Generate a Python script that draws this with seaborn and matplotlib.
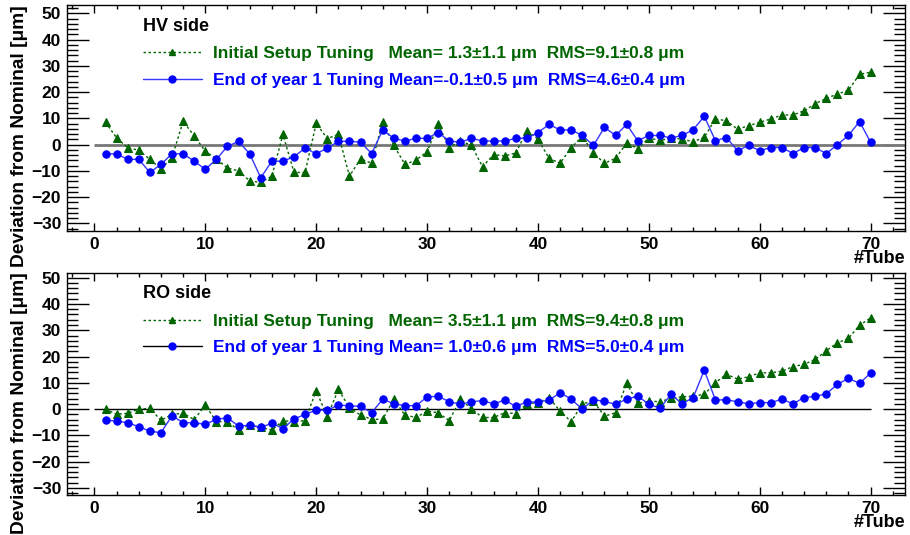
import numpy as np
import pandas as pd
import matplotlib
matplotlib.use("Agg")
import matplotlib.pyplot as plt
from matplotlib.ticker import MultipleLocator
from matplotlib.lines import Line2D
import seaborn as sns

# ---------------- data ----------------
tubes = list(range(1, 71))

hv_initial = [8.5, 2.6, -1.2, -2.1, -5.6, -9.3, -4.9, 8.9, 3.3, -2.5,
              -5.5, -8.9, -10.0, -13.8, -14.4, -12.0, 3.9, -10.6, -10.6, 8.1,
              2.3, 3.9, -12.0, -5.4, -7.1, 8.7, -0.3, -7.5, -5.9, -2.7,
              7.7, -1.1, 1.5, -0.3, -8.4, -3.8, -4.3, -3.2, 5.3, 2.1,
              -5.2, -7.1, -1.1, 3.1, -3.2, -7.1, -5.2, 0.6, -1.5, 2.5,
              1.6, 2.5, 2.1, 1.1, 2.8, 9.8, 9.1, 5.9, 7.2, 8.5,
              9.8, 11.3, 11.3, 12.9, 15.6, 17.6, 19.3, 20.7, 26.8, 27.6]
hv_year1 = [-3.5, -3.5, -5.6, -5.6, -10.6, -7.5, -3.5, -3.5, -6.3, -9.4,
            -5.6, -0.6, 1.2, -3.5, -12.6, -6.3, -6.3, -4.6, -1.3, -3.5,
            -1.3, 1.2, 1.3, 0.9, -3.4, 5.6, 2.4, 1.4, 2.4, 2.4,
            4.6, 1.4, 0.9, 2.4, 1.4, 1.4, 1.4, 2.4, 2.4, 4.6,
            7.7, 5.6, 5.6, 3.5, -0.3, 6.6, 3.5, 7.7, 1.5, 3.5,
            3.5, 2.5, 3.5, 5.7, 10.8, 1.5, 2.7, -2.3, -0.3, -2.3,
            -1.1, -1.1, -3.4, -1.1, -1.1, -3.4, 0.0, 3.5, 8.8, 0.9]

ro_initial = [0.0, -2.0, -1.6, 0.0, 0.3, -4.3, -2.0, -1.6, -4.0, 1.5,
              -4.8, -4.8, -8.0, -6.0, -7.0, -8.0, -4.4, -4.8, -4.4, 7.0,
              -2.9, 7.5, 0.5, -2.3, -3.9, -3.9, 3.8, -2.3, -3.2, -0.8,
              -1.4, -4.4, 3.8, 0.1, -3.2, -3.2, -1.4, -1.7, 2.0, 2.5,
              4.3, -0.8, -4.8, 2.0, 3.0, -2.7, -1.4, 9.8, 2.2, 3.0,
              2.8, 4.1, 4.7, 4.9, 5.6, 10.0, 13.3, 11.4, 12.3, 13.8,
              13.8, 14.4, 16.2, 17.0, 18.9, 22.2, 25.2, 26.9, 31.9, 34.7]
ro_year1 = [-4.2, -4.6, -5.2, -6.7, -8.4, -9.0, -2.5, -5.2, -5.2, -5.8,
            -3.9, -3.3, -6.5, -6.1, -7.0, -5.4, -7.4, -3.8, -2.0, -0.4,
            -0.4, 1.5, 1.3, 1.0, -1.4, 3.8, 2.0, 1.3, 1.3, 4.6,
            4.9, 2.8, 1.8, 2.8, 3.2, 2.0, 3.4, 1.0, 2.7, 2.7,
            3.4, 6.2, 3.8, -0.1, 3.6, 2.9, 1.8, 3.8, 4.9, 1.9,
            0.3, 5.6, 2.0, 4.4, 14.8, 3.5, 3.5, 2.8, 2.0, 2.5,
            2.4, 3.8, 2.0, 4.4, 4.8, 5.8, 9.4, 11.7, 9.8, 13.7]

panel_titles = ["HV side", "RO side"]
label_initial = ["Initial Setup Tuning   Mean= 1.3\u00b11.1 \u03bcm  RMS=9.1\u00b10.8 \u03bcm",
                 "Initial Setup Tuning   Mean= 3.5\u00b11.1 \u03bcm  RMS=9.4\u00b10.8 \u03bcm"]
label_year1 = ["End of year 1 Tuning Mean=-0.1\u00b10.5 \u03bcm  RMS=4.6\u00b10.4 \u03bcm",
               "End of year 1 Tuning Mean= 1.0\u00b10.6 \u03bcm  RMS=5.0\u00b10.4 \u03bcm"]
ylabel = "Deviation from Nominal [\u03bcm]"
xlabel = "#Tube"

# ---------------- style ----------------
sns.set_theme(style="ticks")
plt.rcParams['font.family'] = ['Liberation Sans', 'DejaVu Sans']
plt.rcParams['font.weight'] = 'bold'
plt.rcParams['text.color'] = 'black'
plt.rcParams['axes.labelcolor'] = 'black'
plt.rcParams['xtick.color'] = 'black'
plt.rcParams['ytick.color'] = 'black'
plt.rcParams['legend.title_fontsize'] = 13

GREEN = "#006400"
BLUE = "#0000ff"
LEGFS = 12.5

W, H = 910, 535
fig = plt.figure(figsize=(W / 100, H / 100), dpi=100)

def frac_rect(l, t, r, b):
    return [l / W, 1 - b / H, (r - l) / W, (b - t) / H]

axes = [fig.add_axes(frac_rect(66.7, 5, 905, 231)),
        fig.add_axes(frac_rect(66.7, 272.7, 905, 495))]
ylims = [(-32.9, 53.2), (-32.7, 51.9)]

datasets = [(hv_initial, hv_year1), (ro_initial, ro_year1)]

for i, ax in enumerate(axes):
    init, yr1 = datasets[i]
    df = pd.DataFrame({"tube": tubes, "initial": init, "year1": yr1})
    xmax = 73.1
    # zero reference
    if i == 0:
        ax.hlines(0, 0, xmax, color="#777777", lw=2.0, zorder=1)
    else:
        ax.hlines(0, 0, tubes[-1], color="black", lw=1.0, zorder=1)

    sns.lineplot(data=df, x="tube", y="initial", ax=ax, color=GREEN,
                 linestyle=(0, (1.8, 1.8)), lw=1.0, marker="^", markersize=5.2,
                 markeredgecolor=GREEN, markerfacecolor=GREEN, zorder=3)
    sns.lineplot(data=df, x="tube", y="year1", ax=ax, color="#3535ff",
                 lw=1.0, marker="o", markersize=5.3,
                 markeredgecolor=BLUE, markerfacecolor=BLUE, zorder=4)

    ax.set_xlim(-2.5, xmax)
    ax.set_ylim(*ylims[i])
    ax.xaxis.set_major_locator(MultipleLocator(10))
    ax.xaxis.set_minor_locator(MultipleLocator(2))
    ax.yaxis.set_major_locator(MultipleLocator(10))
    ax.yaxis.set_minor_locator(MultipleLocator(2))
    ax.tick_params(axis="both", which="both", direction="in",
                   top=True, right=True, colors="black", labelsize=12.5)
    ax.tick_params(axis="y", which="major", length=16, width=1.0, pad=4)
    ax.tick_params(axis="y", which="minor", length=8, width=1.0)
    ax.tick_params(axis="x", which="major", length=5.5, width=1.0, pad=4)
    ax.tick_params(axis="x", which="minor", length=3, width=1.0)
    for lab in ax.get_xticklabels() + ax.get_yticklabels():
        lab.set_fontweight("bold")
    for s in ax.spines.values():
        s.set_linewidth(1.0)
        s.set_color("black")

    ax.set_xlabel(xlabel, fontsize=13, fontweight="bold", loc="right", labelpad=0,
                  color="black")
    ax.xaxis.set_label_coords(1.0, -0.085)
    ax.set_ylabel(ylabel, fontsize=13.8, fontweight="bold", loc="top", color="black")
    ax.yaxis.set_label_coords(-0.046, 1.0)

    handles = [Line2D([0], [0], color=GREEN, lw=1.0, linestyle=(0, (1.8, 1.8)),
                      marker="^", markersize=4.5, markerfacecolor=GREEN,
                      markeredgecolor=GREEN),
               Line2D([0], [0], color=("#3535ff" if i == 0 else "black"), lw=1.0,
                      marker="o", markersize=5.0, markerfacecolor=BLUE,
                      markeredgecolor=BLUE)]
    leg = ax.legend(handles, [label_initial[i], label_year1[i]],
                    title=panel_titles[i], loc="upper left",
                    bbox_to_anchor=(76 / 838.3, 1 - 13 / 226),
                    frameon=False, fontsize=LEGFS, numpoints=1,
                    handlelength=3.4, handletextpad=0.63, labelspacing=0.65,
                    borderpad=0, borderaxespad=0,
                    labelcolor=[GREEN, BLUE], alignment="left")
    leg.get_title().set_fontweight("bold")
    leg.get_title().set_color("black")
    for t in leg.get_texts():
        t.set_fontweight("bold")

fig.savefig("out.png", dpi=100)
